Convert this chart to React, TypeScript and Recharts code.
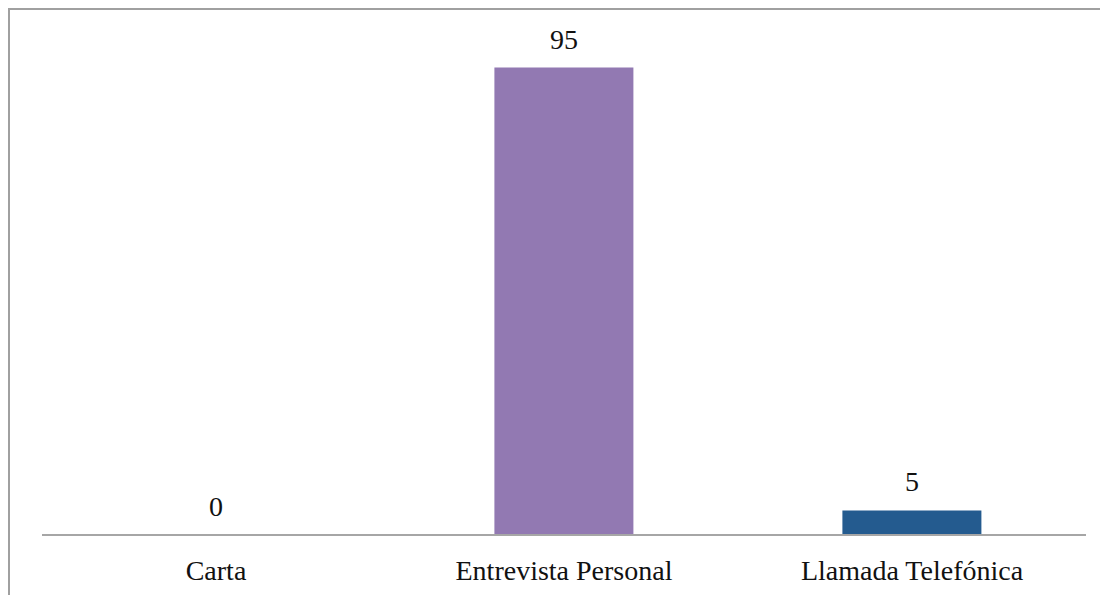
import React from 'react';
import { BarChart, Bar, XAxis, YAxis, Cell, LabelList } from 'recharts';

const categories = ['Carta', 'Entrevista Personal', 'Llamada Telefónica'];
const values = [0, 95, 5];
const colors = ['#4F81BD', '#9279B2', '#245B8F'];

const data = categories.map((name, i) => ({ name, value: values[i] }));

const FONT = '"Liberation Serif", serif';

const CategoryTick = (props: any) => {
  const { x, y, payload } = props;
  return (
    <text x={x} y={y + 37} textAnchor="middle" fontFamily={FONT} fontSize={28} fill="#111">
      {payload.value}
    </text>
  );
};

export default function App() {
  return (
    <div style={{ width: 1100, height: 587, borderTop: '2px solid #a0a0a0', borderLeft: '2px solid #a0a0a0', boxSizing: 'border-box', background: '#fff' }}>
      <BarChart width={1098} height={585} data={data} margin={{ top: 33, right: 22, left: 32, bottom: 0 }} barCategoryGap="30%">
        <XAxis
          dataKey="name"
          height={60}
          tickLine={false}
          axisLine={{ stroke: '#a6a6a6', strokeWidth: 2 }}
          tick={<CategoryTick />}
          interval={0}
        />
        <YAxis hide domain={[0, 100]} />
        <Bar dataKey="value" isAnimationActive={false} minPointSize={0.01}>
          {data.map((d, i) => (
            <Cell key={d.name} fill={colors[i]} />
          ))}
          <LabelList dataKey="value" position="top" offset={19} fontFamily={FONT} fontSize={28} fill="#111" />
        </Bar>
      </BarChart>
    </div>
  );
}
